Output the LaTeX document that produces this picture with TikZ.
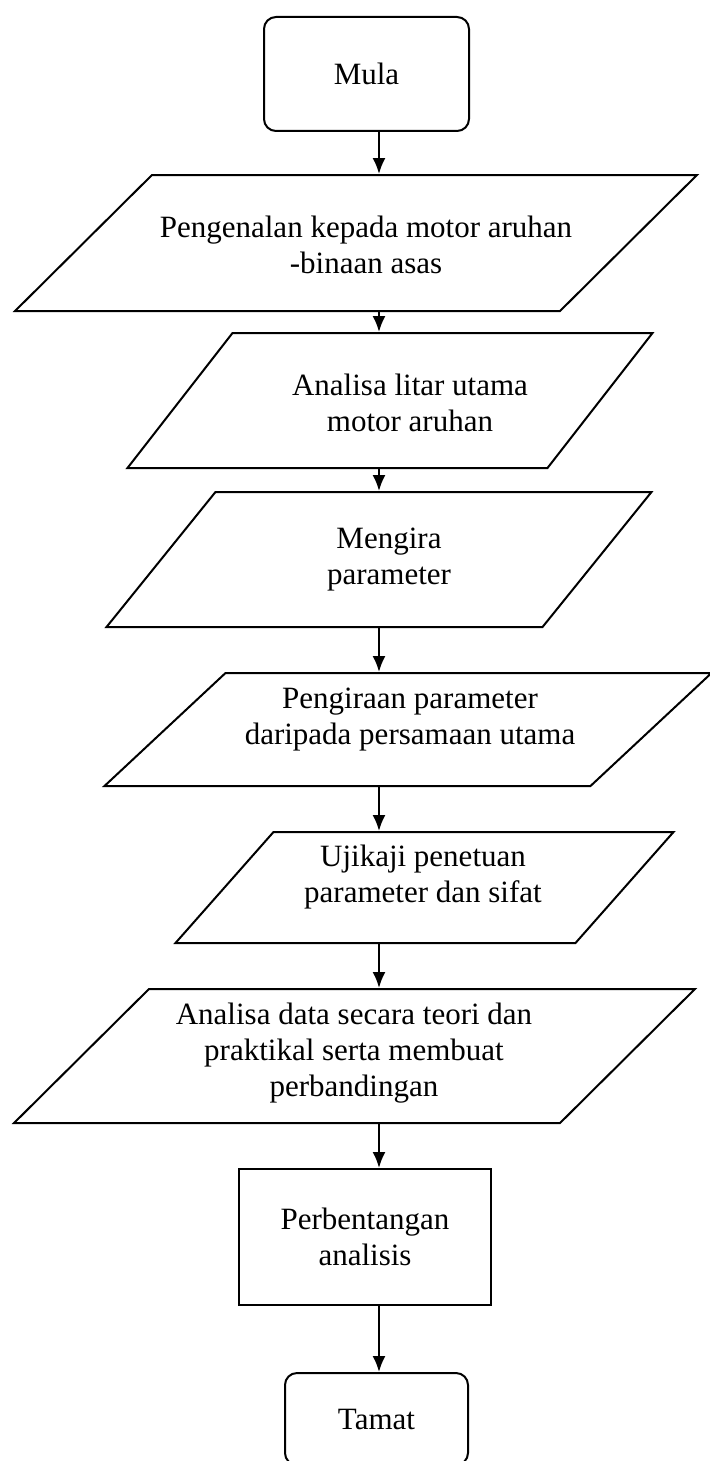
\documentclass[tikz,border=0pt]{standalone}
\usepackage{fontspec}
\setmainfont{Liberation Serif}
\usetikzlibrary{arrows.meta}
\tikzset{
	teks/.style={align=center, inner sep=0pt, font=\fontsize{15.5}{18}\selectfont},
	blok/.style={teks, draw, line width=1pt},
	ujung/.style={blok, rounded corners=6pt},
	para/.style={draw, line width=1pt, inner sep=0pt},
	panah/.style={-{Latex[length=8pt,width=6.5pt]}, line width=1pt}
}
\begin{document}
\begin{tikzpicture}[x=0.5pt,y=-0.5pt]
		\useasboundingbox (0,0) rectangle (710,1461);
		\coordinate (spine) at (379,0);
		% mula dan tamat
		\node[ujung, minimum width=102.5pt, minimum height=57pt] (mula) at (366.5,74) {Mula};
		\node[ujung, minimum width=91.5pt, minimum height=46pt] (tamat) at (376.5,1419) {Tamat};
		% kotak-kotak proses
		\node[para, minimum width=272.5pt, minimum height=68pt, xslant=1.007] (kenal) at (356,243) {};
		\node[teks] (kenal-t) at (366,245) {Pengenalan kepada motor aruhan\\-binaan asas};
		\node[para, minimum width=210pt, minimum height=67.5pt, xslant=0.778] (litar) at (390,400.5) {};
		\node[teks] (litar-t) at (410,403) {Analisa litar utama\\motor aruhan};
		\node[para, minimum width=218pt, minimum height=67.5pt, xslant=0.807] (kira) at (379,559.5) {};
		\node[teks] (kira-t) at (389,560) {Mengira\\parameter};
		\node[para, minimum width=243pt, minimum height=56.5pt, xslant=1.071] (persamaan) at (408,729.5) {};
		\node[teks] (persamaan-t) at (410,720) {Pengiraan parameter\\daripada persamaan utama};
		\node[para, minimum width=200pt, minimum height=55.5pt, xslant=0.883] (ujikaji) at (424.5,887.5) {};
		\node[teks] (ujikaji-t) at (423,877) {Ujikaji penetuan\\parameter dan sifat};
		\node[para, minimum width=273pt, minimum height=67pt, xslant=1.007] (data) at (354.5,1056) {};
		\node[teks] (data-t) at (354,1053) {Analisa data secara teori dan\\praktikal serta membuat\\perbandingan};
		\node[blok, minimum width=126pt, minimum height=68pt] (bentang) at (365,1237) {Perbentangan\\analisis};
		% anak panah
		\draw[panah] (mula.south -| spine) -- (kenal.north -| spine);
		\draw[panah] (kenal.south -| spine) -- (litar.north -| spine);
		\draw[panah] (litar.south -| spine) -- (kira.north -| spine);
		\draw[panah] (kira.south -| spine) -- (persamaan.north -| spine);
		\draw[panah] (persamaan.south -| spine) -- (ujikaji.north -| spine);
		\draw[panah] (ujikaji.south -| spine) -- (data.north -| spine);
		\draw[panah] (data.south -| spine) -- (bentang.north -| spine);
		\draw[panah] (bentang.south -| spine) -- (tamat.north -| spine);
\end{tikzpicture}
\end{document}
